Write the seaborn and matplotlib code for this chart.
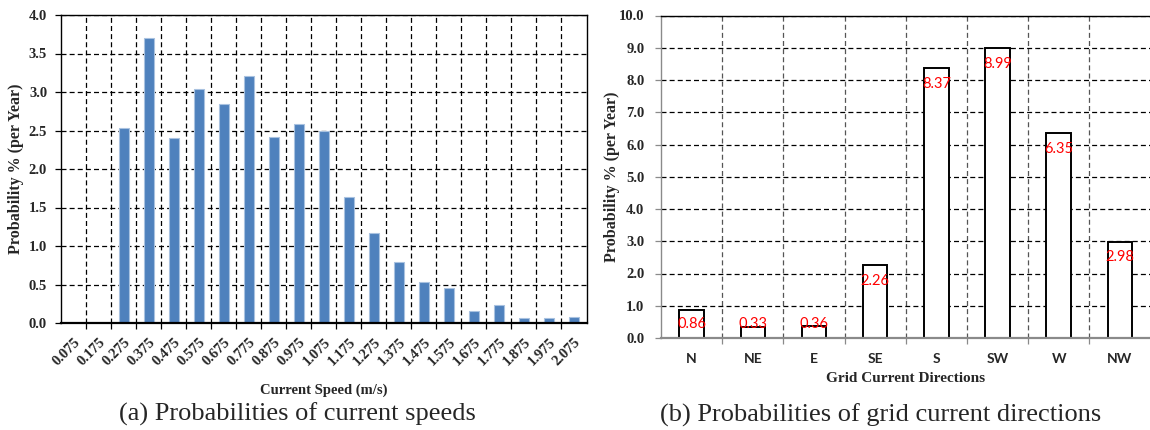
import matplotlib
matplotlib.use("Agg")
import matplotlib.pyplot as plt
import seaborn as sns
import numpy as np

speed_labels = ["0.075", "0.175", "0.275", "0.375", "0.475", "0.575", "0.675",
                "0.775", "0.875", "0.975", "1.075", "1.175", "1.275", "1.375",
                "1.475", "1.575", "1.675", "1.775", "1.875", "1.975", "2.075"]
speed_probs = [0.0, 0.0, 2.53, 3.70, 2.40, 3.04, 2.85, 3.21, 2.42, 2.59, 2.50,
               1.63, 1.17, 0.79, 0.53, 0.46, 0.15, 0.23, 0.06, 0.06, 0.08]

dir_labels = ["N", "NE", "E", "SE", "S", "SW", "W", "NW"]
dir_probs = [0.86, 0.33, 0.36, 2.26, 8.37, 8.99, 6.35, 2.98]

sns.set_theme(style="white")
plt.rcParams["font.family"] = ["Liberation Serif", "DejaVu Serif"]

W, H = 1150, 430
fig = plt.figure(figsize=(W / 100, H / 100), dpi=100)
ax1 = fig.add_axes([61 / W, 1 - 323 / H, (586.5 - 61) / W, (323 - 15) / H])
ax2 = fig.add_axes([661 / W, 1 - 338 / H, (1150.5 - 661) / W, (338 - 15.5) / H])

dash = (0, (4, 2.5))

def style_axes(ax, n, ymax, ystep, vgrid_color, spine_color):
    ax.set_xlim(-0.5, n - 0.5)
    ax.set_ylim(0, ymax)
    ax.set_yticks(np.arange(0, ymax + 1e-9, ystep))
    ax.set_xticks(np.arange(0.5, n - 0.5, 1.0), minor=True)
    ax.grid(True, which="minor", axis="x", color=vgrid_color, linestyle=dash, linewidth=0.9)
    ax.grid(True, which="major", axis="y", color="black", linestyle=dash, linewidth=0.9)
    ax.grid(False, which="major", axis="x")
    ax.set_axisbelow(True)
    for s in ax.spines.values():
        s.set_color("black")
        s.set_linewidth(1.0)
    ax.spines["left"].set_color(spine_color)
    ax.spines["bottom"].set_color(spine_color)
    ax.spines["bottom"].set_linewidth(1.6)
    ax.tick_params(axis="x", which="major", length=0)
    ax.tick_params(axis="x", which="minor", length=4, width=0.9, color=spine_color,
                   direction="out", bottom=True)
    ax.tick_params(axis="y", which="major", length=4, width=0.9, color=spine_color,
                   direction="out", left=True, pad=6)

# (a) current speeds
sns.barplot(x=speed_labels, y=speed_probs, order=speed_labels, ax=ax1,
            color="#4F81BD", saturation=1, width=0.4,
            edgecolor="#A9C2E0", linewidth=0.8)
style_axes(ax1, len(speed_labels), 4.0, 0.5, "black", "black")
ax1.set_yticklabels([f"{v:.1f}" for v in np.arange(0, 4.01, 0.5)],
                    fontsize=10.5, fontweight="bold")
ax1.set_xticks(range(len(speed_labels)))
ax1.set_xticklabels(speed_labels, rotation=45, ha="right", rotation_mode="anchor",
                    fontsize=10.5, fontweight="bold")
ax1.tick_params(axis="x", which="major", pad=9)
ax1.set_xlabel("Current Speed (m/s)", fontsize=10.5, fontweight="bold", labelpad=11)
ax1.set_ylabel("Probability % (per Year)", fontsize=11.5, fontweight="bold")
ax1.yaxis.set_label_coords((24 - 61) / 525.5, 0.5)

# (b) grid current directions
sns.barplot(x=dir_labels, y=dir_probs, order=dir_labels, ax=ax2,
            color="white", saturation=1, width=0.4,
            edgecolor="black", linewidth=1.4)
style_axes(ax2, len(dir_labels), 10.0, 1.0, "#555555", "#8a8a8a")
ax2.spines["right"].set_visible(False)
ax2.set_yticklabels([f"{v:.1f}" for v in np.arange(0, 10.01, 1.0)],
                    fontsize=10.5, fontweight="bold")
ax2.tick_params(axis="y", pad=8)
ax2.set_xticks(range(len(dir_labels)))
ax2.set_xticklabels(dir_labels, fontsize=10, fontweight="bold", family=["Lato", "DejaVu Sans"])
ax2.tick_params(axis="x", which="major", pad=11)
ax2.set_xlabel("Grid Current Directions", fontsize=11, fontweight="bold", labelpad=5)
ax2.set_ylabel("Probability % (per Year)", fontsize=11.5, fontweight="bold")
ax2.yaxis.set_label_coords((620 - 661) / 489.5, 0.5)

for i, v in enumerate(dir_probs):
    yc = max(v - 0.48, 0.43)
    ax2.text(i, yc, f"{v:.2f}", color="#FF0000", fontsize=10.5,
             family=["Lato", "DejaVu Sans"], ha="center", va="center")

fig.text(297 / W, 1 - 421 / H, "(a) Probabilities of current speeds",
         fontsize=19, ha="center", va="baseline")
fig.text(881 / W, 1 - 422 / H, "(b) Probabilities of grid current directions",
         fontsize=19, ha="center", va="baseline")

fig.savefig("out.png", dpi=100, facecolor="white")
